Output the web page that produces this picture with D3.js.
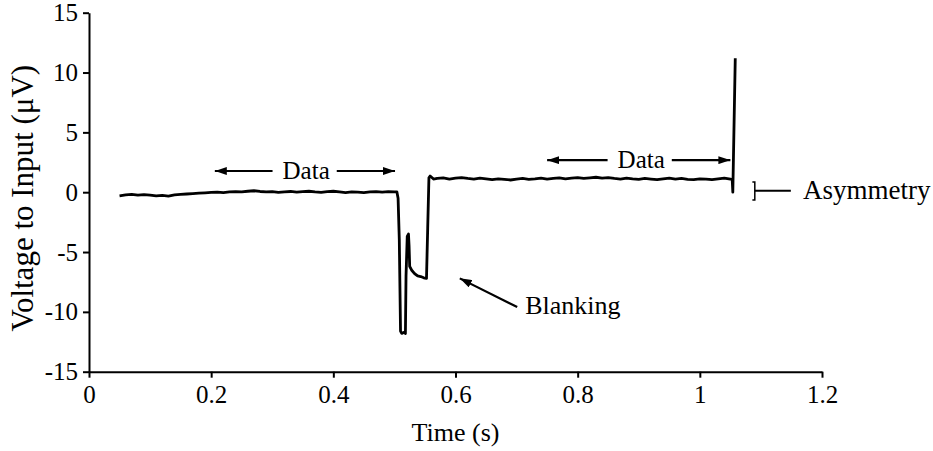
<!DOCTYPE html>
<html><head><meta charset="utf-8">
<script src="https://cdn.jsdelivr.net/npm/d3@7"></script>
<style>
body{margin:0;background:#fff;}
text{font-family:"Liberation Serif","Times New Roman",serif;fill:#000;}
</style></head>
<body><svg id="c" width="933" height="451"></svg>
<script>
// ---- data ----
const xTicks = [0, 0.2, 0.4, 0.6, 0.8, 1, 1.2];
const yTicks = [-15, -10, -5, 0, 5, 10, 15];
const xLabel = "Time (s)";
const yLabel = "Voltage to Input (\u03bcV)";

const timeS = [
 0.05,0.06,0.07,0.08,0.09,0.10,0.11,0.12,0.13,0.14,0.15,0.16,0.17,0.18,0.19,0.20,
 0.21,0.22,0.23,0.24,0.25,0.26,0.27,0.28,0.29,0.30,0.31,0.32,0.33,0.34,0.35,0.36,
 0.37,0.38,0.39,0.40,0.41,0.42,0.43,0.44,0.45,0.46,0.47,0.48,0.49,0.50,0.504,
 0.506,0.508,0.510,0.512,0.516,0.518,0.519,0.521,0.523,0.524,0.525,0.528,0.533,
 0.538,0.543,0.548,0.5525,0.5545,0.5565,0.5585,0.564,
 0.57,0.58,0.59,0.60,0.61,0.62,0.63,0.64,0.65,0.66,0.67,0.68,0.69,0.70,0.71,0.72,
 0.73,0.74,0.75,0.76,0.77,0.78,0.79,0.80,0.81,0.82,0.83,0.84,0.85,0.86,0.87,0.88,
 0.89,0.90,0.91,0.92,0.93,0.94,0.95,0.96,0.97,0.98,0.99,1.00,1.01,1.02,1.03,1.04,
 1.05,1.053,1.054,1.058
];
const voltageUV = [
 -0.30,-0.22,-0.18,-0.25,-0.20,-0.24,-0.30,-0.27,-0.32,-0.22,-0.18,-0.15,-0.12,-0.08,-0.05,-0.02,
 0.00,-0.04,0.02,0.05,0.02,0.08,0.12,0.06,0.02,0.05,-0.02,0.03,0.06,0.00,0.04,0.08,
 0.02,-0.02,0.05,0.08,0.02,-0.03,0.03,0.00,-0.04,0.02,0.05,0.00,0.04,0.02,0.03,
 -0.5,-4.0,-11.6,-11.8,-11.7,-11.8,-7.0,-3.7,-3.5,-4.5,-6.2,-6.5,-6.8,
 -7.0,-7.05,-7.15,-7.2,-3.0,1.2,1.35,1.1,
 1.15,1.20,1.10,1.18,1.22,1.15,1.10,1.18,1.12,1.05,1.12,1.08,1.02,1.10,1.15,1.08,
 1.12,1.18,1.10,1.15,1.20,1.12,1.18,1.22,1.15,1.20,1.25,1.18,1.22,1.15,1.10,1.18,
 1.12,1.08,1.15,1.10,1.05,1.12,1.18,1.10,1.15,1.08,1.05,1.12,1.10,1.05,1.12,1.18,
 1.10,1.05,0.0,11.2
];

// annotations (data units)
const dataLabels = ["Data", "Data"];
const dataArrowX1 = [0.206, 0.750];
const dataArrowX2 = [0.501, 1.050];
const dataArrowY = [1.77, 2.68];
const dataTextX = [0.3555, 0.904];
const blankingArrow = [0.701, -9.6, 0.607, -7.2]; // from (x,y) to (x,y)
const blankingLabel = "Blanking";
const blankingTextPos = [0.714, -10.2];
const asymBracket = [1.086, 1.090, 0.85, -0.65]; // xOuter, xInner, yTop, yBottom
const asymLine = [1.090, 1.149, 0.12];
const asymLabel = "Asymmetry";
const asymTextX = 1.169;

// ---- drawing ----
const svg = d3.select("#c");
const m = {left: 89, top: 12.7, right: 933 - 822, bottom: 451 - 371.7};
const x = d3.scaleLinear().domain([0, 1.2]).range([m.left, 933 - m.right]);
const y = d3.scaleLinear().domain([-15, 15]).range([451 - m.bottom, m.top]);

const defs = svg.append("defs");
defs.append("marker").attr("id", "ah").attr("viewBox", "0 0 12 8")
  .attr("refX", 12).attr("refY", 4).attr("markerWidth", 12).attr("markerHeight", 8)
  .attr("markerUnits", "userSpaceOnUse").attr("orient", "auto-start-reverse")
  .append("path").attr("d", "M0,0 L12,4 L0,8 Z").attr("fill", "#000");

const fs = 25;
const xa = svg.append("g").attr("transform", `translate(0,${y(-15)})`)
  .call(d3.axisBottom(x).tickValues(xTicks).tickSize(6).tickSizeOuter(0).tickPadding(8)
    .tickFormat(d => String(+d.toFixed(1))));
const ya = svg.append("g").attr("transform", `translate(${x(0)},0)`)
  .call(d3.axisLeft(y).tickValues(yTicks).tickSize(6).tickSizeOuter(0).tickPadding(5)
    .tickFormat(d => String(d)));
[xa, ya].forEach(g => {
  g.select(".domain").attr("stroke", "#000").attr("stroke-width", 2);
  g.selectAll(".tick line").attr("stroke", "#000").attr("stroke-width", 2);
  g.selectAll(".tick text").attr("font-size", fs).attr("font-family", "Liberation Serif").attr("fill", "#000");
});

svg.append("text").attr("x", (x(0) + x(1.2)) / 2).attr("y", 441).attr("text-anchor", "middle")
  .attr("font-size", 26).text(xLabel);
svg.append("text").attr("transform", `translate(33,${y(0) + 6}) rotate(-90)`).attr("text-anchor", "middle")
  .attr("font-size", 31).text(yLabel);

const pts = timeS.map((t, i) => [t, voltageUV[i]]);
svg.append("path").datum(pts)
  .attr("d", d3.line().x(d => x(d[0])).y(d => y(d[1])))
  .attr("fill", "none").attr("stroke", "#000").attr("stroke-width", 2.8).attr("stroke-linejoin", "round");

// Data arrows
dataLabels.forEach((lab, i) => {
  const t = svg.append("text").attr("x", x(dataTextX[i])).attr("y", y(dataArrowY[i]) + 8)
    .attr("text-anchor", "middle").attr("font-size", 25).text(lab);
  const w = t.node().getComputedTextLength();
  const cy = y(dataArrowY[i]);
  svg.append("line").attr("x1", x(dataTextX[i]) - w / 2 - 10).attr("x2", x(dataArrowX1[i]))
    .attr("y1", cy).attr("y2", cy).attr("stroke", "#000").attr("stroke-width", 2.2).attr("marker-end", "url(#ah)");
  svg.append("line").attr("x1", x(dataTextX[i]) + w / 2 + 7).attr("x2", x(dataArrowX2[i]))
    .attr("y1", cy).attr("y2", cy).attr("stroke", "#000").attr("stroke-width", 2.2).attr("marker-end", "url(#ah)");
});

// Blanking arrow
svg.append("line").attr("x1", x(blankingArrow[0])).attr("y1", y(blankingArrow[1]))
  .attr("x2", x(blankingArrow[2])).attr("y2", y(blankingArrow[3]))
  .attr("stroke", "#000").attr("stroke-width", 2.2).attr("marker-end", "url(#ah)");
svg.append("text").attr("x", x(blankingTextPos[0])).attr("y", y(blankingTextPos[1]))
  .attr("font-size", 26).text(blankingLabel);

// Asymmetry bracket
svg.append("path")
  .attr("d", `M${x(asymBracket[0])},${y(asymBracket[2])} H${x(asymBracket[1])} V${y(asymBracket[3])} H${x(asymBracket[0])}`)
  .attr("fill", "none").attr("stroke", "#000").attr("stroke-width", 1.5);
svg.append("line").attr("x1", x(asymLine[0])).attr("x2", x(asymLine[1]))
  .attr("y1", y(asymLine[2])).attr("y2", y(asymLine[2])).attr("stroke", "#000").attr("stroke-width", 2);
svg.append("text").attr("x", x(asymTextX)).attr("y", y(asymLine[2]) + 8)
  .attr("font-size", 27).text(asymLabel);
</script></body></html>
